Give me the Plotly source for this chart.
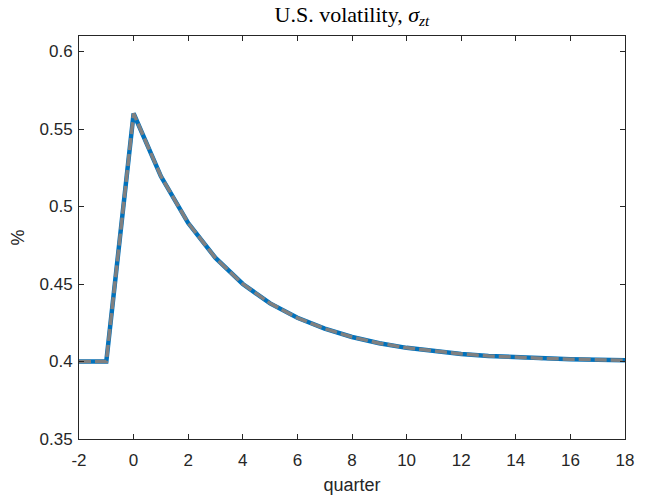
import plotly.graph_objects as go

# Impulse response of U.S. volatility (percent), by quarter
quarters = list(range(-2, 19))
vol_model = [0.4000, 0.4000, 0.5600, 0.5195, 0.4893, 0.4668, 0.4500, 0.4375,
             0.4282, 0.4212, 0.4158, 0.4118, 0.4088, 0.4066, 0.4049, 0.4036,
             0.4027, 0.4020, 0.4015, 0.4011, 0.4008]
vol_approx = list(vol_model)

x_ticks = list(range(-2, 19, 2))
x_labels = [str(v) for v in x_ticks]
y_ticks = [0.35, 0.4, 0.45, 0.5, 0.55, 0.6]
y_labels = ["0.35", "0.4", "0.45", "0.5", "0.55", "0.6"]

axis_color = "#262626"
font_sans = "Liberation Sans, Arial, sans-serif"

fig = go.Figure()
fig.add_trace(go.Scatter(x=quarters, y=vol_model, mode="lines",
                         line=dict(color="#0072BD", width=4.5),
                         showlegend=False))
fig.add_trace(go.Scatter(x=quarters, y=vol_approx, mode="lines",
                         line=dict(color="#808080", width=3.5, dash="12px,4px"),
                         showlegend=False))

axis_common = dict(showline=True, linecolor=axis_color, linewidth=1,
                   mirror="ticks", ticks="inside", ticklen=5,
                   tickcolor=axis_color, tickwidth=1, showgrid=False,
                   zeroline=False, automargin=False,
                   tickfont=dict(family=font_sans, size=17, color=axis_color))

fig.update_xaxes(range=[-2, 18], tickvals=x_ticks, ticktext=x_labels,
                 ticklabelstandoff=6,
                 title=dict(text="quarter", standoff=8,
                            font=dict(family=font_sans, size=18, color=axis_color)),
                 **axis_common)
fig.update_yaxes(range=[0.35, 0.61], tickvals=y_ticks, ticktext=y_labels,
                 ticklabelstandoff=2,
                 title=dict(text="%", standoff=10,
                            font=dict(family=font_sans, size=18, color=axis_color)),
                 **axis_common)

fig.update_layout(
    width=654, height=500,
    margin=dict(l=79, r=29, t=36, b=61, autoexpand=False),
    plot_bgcolor="white", paper_bgcolor="white",
    title=dict(text="U.S. volatility, <i>σ</i><sub><i>zt</i></sub>",
               x=(79 + 625) / 2 / 654, xanchor="center",
               y=1 - 14 / 500, yanchor="middle",
               font=dict(family="Liberation Serif, Times New Roman, serif",
                         size=22, color="black")),
)

fig.write_html("out.html")
